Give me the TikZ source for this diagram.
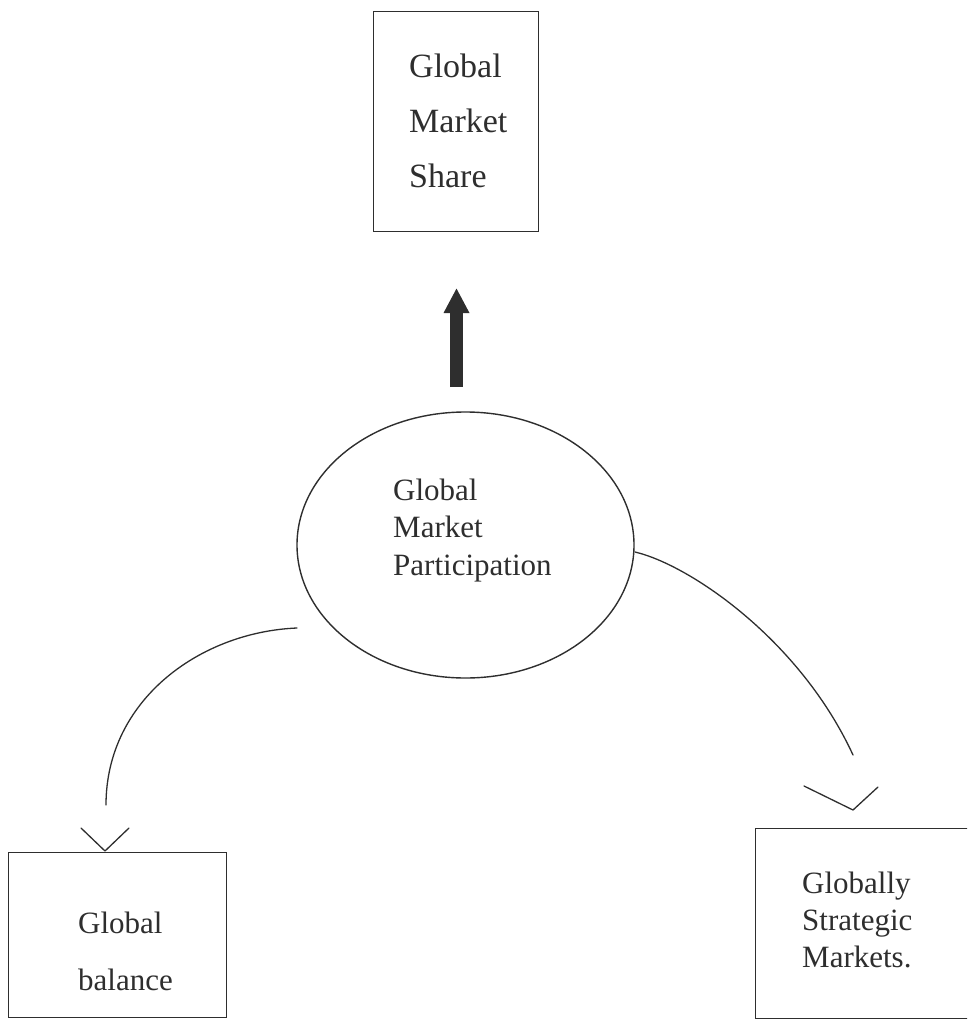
\documentclass[tikz,border=0pt]{standalone}
\usepackage{fontspec}
\setmainfont{Liberation Serif}
\usetikzlibrary{shapes.geometric,arrows.meta}
\definecolor{ink}{HTML}{2E2E2E}
\begin{document}
\begin{tikzpicture}[x=1pt,y=-1pt,
  boxshape/.style={draw=ink,line width=1.4pt,rectangle,inner sep=0pt,anchor=north west},
  txtbig/.style={anchor=base west,inner sep=0pt,text=ink,font=\fontsize{34}{40}\selectfont},
  txt/.style={anchor=base west,inner sep=0pt,text=ink,font=\fontsize{31}{37}\selectfont},
  link/.style={draw=ink,line width=1.3pt,line cap=round,line join=round}]
\useasboundingbox (0,0) rectangle (967,1020);
\clip (0,0) rectangle (967,1020);
% top box
\node[boxshape,minimum width=165pt,minimum height=220pt] (share) at (373,11) {};
\node[txtbig] (s1) at (409,77) {Global};
\node[txtbig] (s2) at (409,132) {Market};
\node[txtbig] (s3) at (409,187) {Share};
% thick arrow
\coordinate (abase) at (456.5,387);
\coordinate (atip) at (456.5,288);
\draw[ink,line width=13pt,-{Triangle[width=24pt,length=25pt]}] (abase) -- (atip);
% ellipse
\node[draw=ink,line width=1.4pt,ellipse,minimum width=337pt,minimum height=266pt,inner sep=0pt] (gmp) at (465.5,545) {};
\node[txt] (p1) at (393,500) {Global};
\node[txt] (p2) at (393,537) {Market};
\node[txt] (p3) at (393,575) {Participation};
% left box
\node[boxshape,minimum width=218pt,minimum height=165pt] (bal) at (8,852) {};
\node[txt] (b1) at (78,933) {Global};
\node[txt] (b2) at (78,990) {balance};
% right box
\node[boxshape,minimum width=230pt,minimum height=190pt] (gsm) at (755,828) {};
\node[txt] (g1) at (802,893) {Globally};
\node[txt] (g2) at (802,930) {Strategic};
\node[txt] (g3) at (802,967) {Markets.};
% left connector
\coordinate (l0) at (297,628);
\coordinate (l1) at (106,805);
\path[link] (l0) .. controls (200,632) and (106,700) .. (l1);
\coordinate (la) at (81,828);
\coordinate (lt) at (105,851);
\coordinate (lb) at (129,828);
\path[link] (la) -- (lt) -- (lb);
% right connector
\coordinate (r0) at (gmp.east |- 0,552);
\coordinate (r0) at (635,552);
\coordinate (r1) at (853,755);
\path[link] (r0) .. controls (690,565) and (800,640) .. (r1);
\coordinate (ra) at (804,786);
\coordinate (rt) at (853,810);
\coordinate (rb) at (878,787);
\path[link] (ra) -- (rt) -- (rb);
\end{tikzpicture}
\end{document}
